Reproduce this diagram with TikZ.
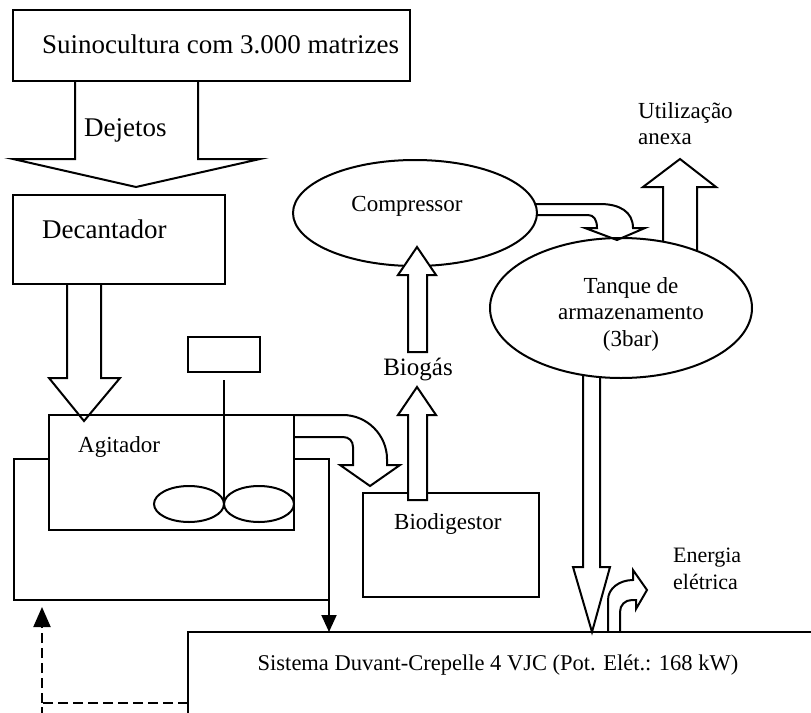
\documentclass[tikz,border=0pt]{standalone}
\usepackage{fontspec}
\setmainfont{Liberation Serif}
\usetikzlibrary{shapes.geometric, arrows.meta, calc}
\tikzset{
  box/.style={draw, line width=2pt, rectangle, fill=white, inner sep=0pt, outer sep=0pt},
  oval/.style={draw, line width=2pt, ellipse, fill=white, inner sep=0pt, outer sep=0pt},
  line/.style={draw, line width=2pt},
  blk/.style={line, line join=miter, miter limit=20},
  blkfill/.style={blk, fill=white},
  feed/.style={line, -{Triangle[length=17pt, width=15pt]}},
  retline/.style={line, dash pattern=on 10pt off 5pt},
  ret/.style={retline, -{Triangle[length=20pt, width=17pt]}},
  bigtxt/.style={font=\fontsize{27}{32}\selectfont, inner sep=0pt},
  midtxt/.style={font=\fontsize{23}{26.5}\selectfont, inner sep=0pt}
}
\begin{document}
\begin{tikzpicture}[x=1pt, y=-1pt]
  \useasboundingbox (0,0) rectangle (811,712);
  \clip (0,0) rectangle (811,712);

  % Farm and settling
  \node[box, minimum width=397, minimum height=71, anchor=north west] (farm) at (13,10) {};
  \node[bigtxt, anchor=base west] (farmtxt) at (42,53) {Suinocultura com 3.000 matrizes};
  \draw[blk] (75,81) -- (75,159) -- (13,159) -- (136,187) -- (260,159) -- (198,159) -- (198,81);
  \node[bigtxt, anchor=base west] (dejtxt) at (84,136) {Dejetos};

  \node[box, minimum width=212, minimum height=89, anchor=north west] (decant) at (13,195) {};
  \node[bigtxt, anchor=base west] (dectxt) at (42,238) {Decantador};

  % Mixing tank
  \node[box, fill=none, minimum width=315, minimum height=141, anchor=north west] (vessel) at (14,459) {};
  \node[box, minimum width=245, minimum height=115, anchor=north west] (agit) at (49,415) {};
  \node[midtxt, anchor=base west] (agitxt) at (78,452) {Agitador};
  \node[box, minimum width=72, minimum height=35, anchor=north west] (motor) at (188,337) {};
  \draw[line] (motor.south) ++(0,8) -- (224,504);
  \draw[line] (189,504) ellipse [x radius=35, y radius=18];
  \draw[line] (259,504) ellipse [x radius=35, y radius=18];
  \draw[blk] (67,284) -- (67,378) -- (49,378) -- (84,421) -- (120,378) -- (101,378) -- (101,284);

  % Digester
  \node[box, minimum width=176, minimum height=104, anchor=north west] (digest) at (363,493) {};
  \node[midtxt, anchor=base west] (digtxt) at (394,529) {Biodigestor};
  \draw[blk] (294,415) -- (343,415) .. controls (367,415) and (387,435) .. (387,459) -- (387,465)
    -- (400,465) -- (370,486) -- (340,465) -- (353,465) -- (353,447)
    .. controls (353,441) and (349,437) .. (343,437) -- (294,437);
  \draw[blkfill] (408,500) -- (408,415) -- (398,415) -- (417,387) -- (436,415) -- (427,415) -- (427,500) -- cycle;
  \node[font=\fontsize{25}{30}\selectfont, inner sep=0pt, anchor=base] (gastxt) at (418,375) {Biogás};

  % Engine
  \node[box, minimum width=640, minimum height=100, anchor=north west] (sistema) at (188,632) {};
  \node[font=\fontsize{22.5}{27}\selectfont, inner sep=0pt, anchor=base] (sistxt) at (498,670)
    {Sistema Duvant-Crepelle 4 VJC (Pot. Elét.: 168 kW)};
  \draw[feed] (vessel.south east) -- (vessel.south east |- sistema.north);
  \coordinate (retcorner) at (42,703);
  \draw[retline] (sistema.west |- retcorner) -- (retcorner) -- ++(0,14);
  \draw[ret] (retcorner) -- ($(vessel.south -| retcorner)+(0,7)$);

  % Gas storage
  \draw[blk] (663,262) -- (663,187) -- (643,187) -- (680,159) -- (716,187) -- (697,187) -- (697,262);
  \draw[blk] (583,360) -- (583,567) -- (573,567) -- (592,632) -- (610,567) -- (600,567) -- (600,360);
  \node[oval, minimum width=262, minimum height=140] (tank) at (621,308) {};
  \node[midtxt, align=center, anchor=north] (tanktxt) at (631,277) {Tanque de\\armazenamento\\(3bar)};
  \draw[blk] (520,204) -- (600,204) .. controls (620,204) and (633,212) .. (633,228) -- (645,228)
    -- (617,240) -- (585,228) -- (597,228) .. controls (597,220) and (594,215) .. (588,215) -- (520,215);
  \node[oval, minimum width=244, minimum height=106] (comp) at (415,213) {};
  \node[midtxt, anchor=base] (comptxt) at (407,211) {Compressor};
  \draw[blkfill] (408,352) -- (408,275) -- (398,275) -- (417,247) -- (436,275) -- (427,275) -- (427,352) -- cycle;

  % Outputs
  \node[midtxt, align=left, anchor=north west] (usetxt) at (638,102) {Utilização\\anexa};
  \draw[blk] (608,632) -- (608,600) .. controls (608,588) and (620,580) .. (633,580) -- (633,570)
    -- (647,590) -- (636,609) -- (636,600) -- (632,600) .. controls (625,600) and (620,605) .. (620,612) -- (620,632);
  \node[font=\fontsize{22}{27}\selectfont, inner sep=0pt, align=left, anchor=north west] (eltxt) at (673,548) {Energia\\elétrica};
\end{tikzpicture}
\end{document}
